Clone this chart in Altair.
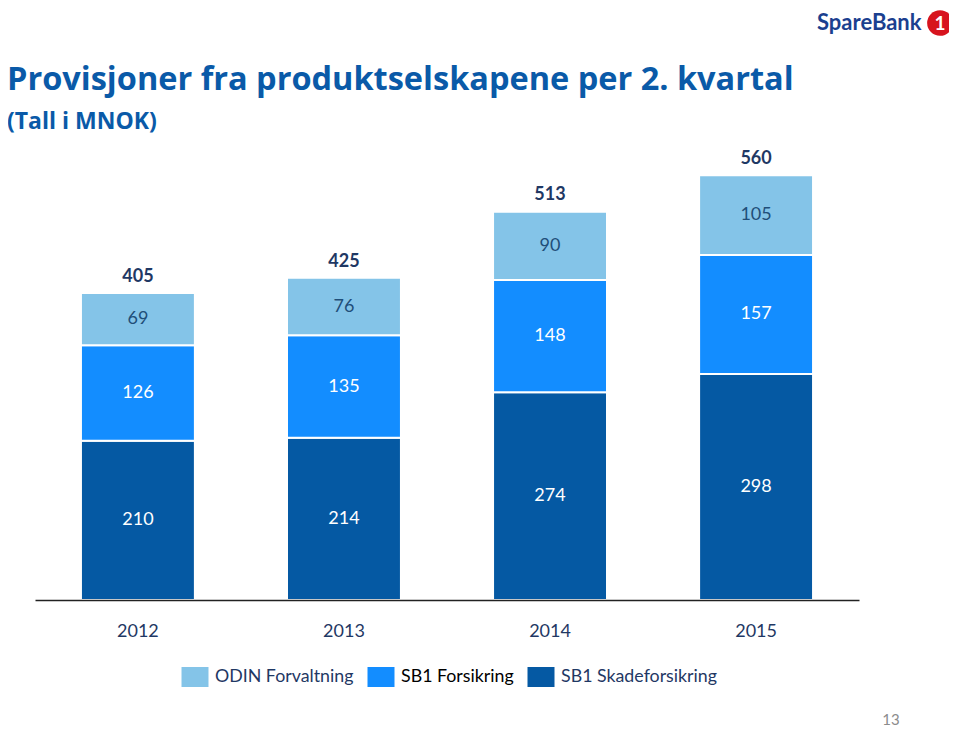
import altair as alt
import pandas as pd

years = ["2012", "2013", "2014", "2015"]
series = ["ODIN Forvaltning", "SB1 Forsikring", "SB1 Skadeforsikring"]
odin = [69, 76, 90, 105]
forsikring = [126, 135, 148, 157]
skade = [210, 214, 274, 298]
totals = [405, 425, 513, 560]
colors = ["#84C4E8", "#138DFF", "#0559A3"]

FONT = "Lato"
TFONT = "Open Sans"

rows = []
for i, y in enumerate(years):
    base = 0
    for order, (name, vals) in enumerate([("SB1 Skadeforsikring", skade),
                                          ("SB1 Forsikring", forsikring),
                                          ("ODIN Forvaltning", odin)]):
        v = vals[i]
        rows.append({"year": y, "series": name, "value": v, "y0": base,
                     "y1": base + v, "mid": base + v / 2, "order": order})
        base += v
df = pd.DataFrame(rows)
tot = pd.DataFrame({"year": years, "total": totals})

xenc = alt.X("year:N", sort=years,
             scale=alt.Scale(paddingInner=0.447, paddingOuter=0.223),
             axis=alt.Axis(title=None, labelAngle=0, ticks=False, labelPadding=22,
                           labelFontSize=18, labelFont=FONT, labelColor="#1F3864",
                           domainColor="#222222", domainWidth=1.5, zindex=1))
yscale = alt.Scale(domain=[0, 600], nice=False)

bars = alt.Chart(df).mark_bar(stroke="white", strokeWidth=2).encode(
    x=xenc,
    y=alt.Y("y0:Q", scale=yscale, axis=None),
    y2="y1:Q",
    color=alt.Color("series:N", sort=series,
                    scale=alt.Scale(domain=series, range=colors),
                    legend=alt.Legend(orient="none", legendX=150, legendY=522,
                                      direction="horizontal", title=None,
                                      symbolType="M-1.35,-1L1.35,-1L1.35,1L-1.35,1Z",
                                      symbolSize=400, symbolStrokeWidth=0,
                                      labelFont=FONT, labelFontSize=17.8,
                                      labelOffset=10, columnPadding=13,
                                      labelColor={"expr": "datum.label == 'SB1 Forsikring' ? '#000000' : '#1F3864'"})),
    order=alt.Order("order:Q"),
)

seg_labels = alt.Chart(df).mark_text(font=FONT, fontSize=18, baseline="middle").encode(
    x=alt.X("year:N", sort=years),
    y=alt.Y("mid:Q", scale=yscale),
    text=alt.Text("value:Q"),
    color=alt.condition(alt.datum.series == "ODIN Forvaltning",
                        alt.value("#1F4E79"), alt.value("#FFFFFF")),
)

tot_labels = alt.Chart(tot).mark_text(font=FONT, fontSize=18, fontWeight="bold",
                                      baseline="middle", dy=-16, color="#1F3864").encode(
    x=alt.X("year:N", sort=years),
    y=alt.Y("total:Q", scale=yscale),
    text="total:Q",
)

deco = pd.DataFrame({"k": [0]})
title = alt.Chart(deco).mark_text(text="Provisjoner fra produktselskapene per 2. kvartal",
                                  font=TFONT, fontSize=32.5, fontWeight="bold", color="#0A5AA8",
                                  align="left", baseline="alphabetic").encode(
    x=alt.value(-28), y=alt.value(-55))
subtitle = alt.Chart(deco).mark_text(text="(Tall i MNOK)",
                                     font=TFONT, fontSize=23, fontWeight="bold", color="#0A5AA8",
                                     align="left", baseline="alphabetic").encode(
    x=alt.value(-28), y=alt.value(-16))
logo_text = alt.Chart(deco).mark_text(text="SpareBank", font=FONT, fontSize=22,
                                      fontWeight="bold", color="#1B3F8F",
                                      align="left", baseline="middle").encode(
    x=alt.value(782), y=alt.value(-122))
logo_circle = alt.Chart(deco).mark_point(shape="circle", filled=True, size=660,
                                         color="#D7141E", opacity=1).encode(
    x=alt.value(905), y=alt.value(-122))
logo_one = alt.Chart(deco).mark_text(text="1", font=FONT, fontSize=19, fontWeight="bold",
                                     color="white", baseline="middle").encode(
    x=alt.value(905), y=alt.value(-121))
page_no = alt.Chart(deco).mark_text(text="13", font=FONT, fontSize=15, color="#8C8C8C",
                                    baseline="middle").encode(
    x=alt.value(856), y=alt.value(575))

chart = alt.layer(bars, seg_labels, tot_labels, title, subtitle,
                  logo_text, logo_circle, logo_one, page_no).properties(
    width=824, height=455,
    padding={"left": 27, "top": 137, "right": 90, "bottom": 131},
    autosize="none",
).configure_view(stroke=None)

chart.save("out.html", embed_options={"renderer": "svg", "actions": False})
